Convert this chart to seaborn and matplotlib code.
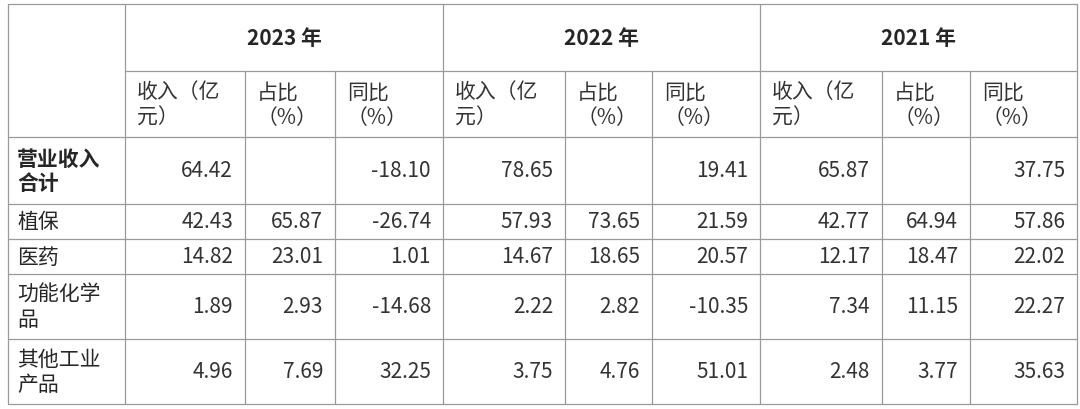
import matplotlib.pyplot as plt
import seaborn as sns

sns.set_theme(style="white")
plt.rcParams['font.family'] = ['Noto Sans CJK SC', 'DejaVu Sans']

years = ['2023 年', '2022 年', '2021 年']
sub_heads = ['收入（亿\n元）', '占比\n（%）', '同比\n（%）']
row_labels = ['营业收入\n合计', '植保', '医药', '功能化学\n品', '其他工业\n产品']
values = [
    ['64.42', '', '-18.10', '78.65', '', '19.41', '65.87', '', '37.75'],
    ['42.43', '65.87', '-26.74', '57.93', '73.65', '21.59', '42.77', '64.94', '57.86'],
    ['14.82', '23.01', '1.01', '14.67', '18.65', '20.57', '12.17', '18.47', '22.02'],
    ['1.89', '2.93', '-14.68', '2.22', '2.82', '-10.35', '7.34', '11.15', '22.27'],
    ['4.96', '7.69', '32.25', '3.75', '4.76', '51.01', '2.48', '3.77', '35.63'],
]

# layout in pixel coordinates
xcols = [8, 125, 245, 335, 443, 565, 652, 760, 882, 970, 1077]
yrows = [5, 72, 138, 205, 240, 275, 340, 405]

fig = plt.figure(figsize=(10.8, 4.1), dpi=100)
ax = fig.add_axes([0, 0, 1, 1])
ax.set_xlim(0, 1080)
ax.set_ylim(410, 0)
ax.axis('off')

lc, lw = '#9a9a9a', 0.9
fs = 15
# horizontal lines
for i, y in enumerate(yrows):
    x0 = xcols[1] if i == 1 else xcols[0]
    ax.plot([x0, xcols[-1]], [y, y], color=lc, lw=lw)
# vertical lines
for j, x in enumerate(xcols):
    top = yrows[1] if j not in (0, 1, 4, 7, 10) else yrows[0]
    ax.plot([x, x], [top, yrows[-1]], color=lc, lw=lw)

for g, yr in enumerate(years):
    xc = (xcols[1 + 3 * g] + xcols[4 + 3 * g]) / 2
    ax.text(xc, (yrows[0] + yrows[1]) / 2, yr, ha='center', va='center',
            fontsize=fs, fontweight='bold')
    for k, h in enumerate(sub_heads):
        c = 1 + 3 * g + k
        ax.text(xcols[c] + 12, (yrows[1] + yrows[2]) / 2, h, ha='left', va='center',
                fontsize=fs, color='#333333', linespacing=1.2)

for r, lab in enumerate(row_labels):
    yc = (yrows[2 + r] + yrows[3 + r]) / 2
    ax.text(xcols[0] + 9, yc, lab, ha='left', va='center', fontsize=fs,
            fontweight='bold' if r == 0 else 'normal', linespacing=1.2)
    for c, v in enumerate(values[r]):
        ax.text(xcols[c + 2] - 12, yc, v, ha='right', va='center', fontsize=fs,
                color='#333333')

fig.savefig('out.png', dpi=100)
